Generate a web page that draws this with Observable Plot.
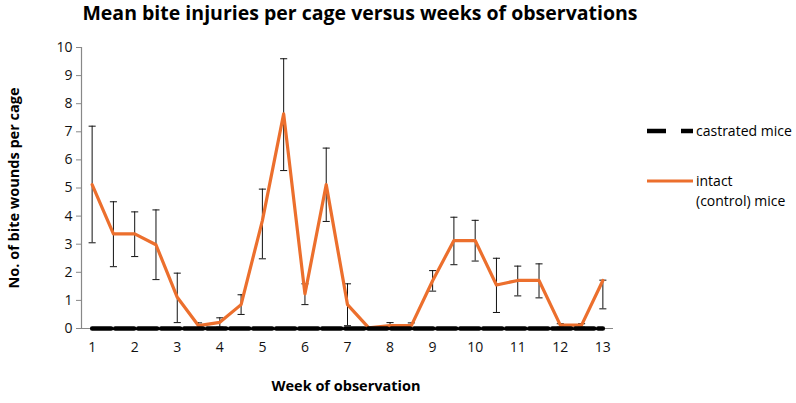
<!DOCTYPE html>
<html>
<head>
<meta charset="utf-8">
<script src="https://cdn.jsdelivr.net/npm/d3@7"></script>
<script src="https://cdn.jsdelivr.net/npm/@observablehq/plot@0.6"></script>
<style>
  html, body { margin: 0; padding: 0; background: #fff; }
  #chart { width: 796px; height: 403px; }
</style>
</head>
<body>
<div id="chart"></div>
<script>
// Weeks of observation (half-week steps)
const weeks = [1, 1.5, 2, 2.5, 3, 3.5, 4, 4.5, 5, 5.5, 6, 6.5, 7, 7.5, 8, 8.5, 9, 9.5, 10, 10.5, 11, 11.5, 12, 12.5, 13];
// Intact (control) mice: mean bite wounds per cage
const intactMean = [5.12, 3.37, 3.37, 2.98, 1.11, 0.1, 0.22, 0.85, 3.84, 7.64, 1.23, 5.12, 0.85, 0.02, 0.1, 0.1, 1.7, 3.13, 3.13, 1.55, 1.71, 1.71, 0.12, 0.12, 1.71];
const intactLow  = [3.05, 2.2, 2.56, 1.74, 0.21, 0.02, 0.05, 0.5, 2.48, 5.62, 0.85, 3.81, 0.1, 0.0, 0.0, 0.0, 1.33, 2.27, 2.4, 0.57, 1.16, 1.09, 0.05, 0.05, 0.7];
const intactHigh = [7.2, 4.51, 4.15, 4.22, 1.97, 0.2, 0.38, 1.2, 4.96, 9.6, 1.59, 6.42, 1.59, 0.05, 0.21, 0.2, 2.06, 3.96, 3.85, 2.5, 2.22, 2.3, 0.17, 0.17, 1.72];
// Castrated mice: no bite wounds
const castratedMean = [0, 0, 0, 0, 0, 0, 0, 0, 0, 0, 0, 0, 0, 0, 0, 0, 0, 0, 0, 0, 0, 0, 0, 0, 0];
const weekTicks = [1, 2, 3, 4, 5, 6, 7, 8, 9, 10, 11, 12, 13];
const yTicks = [0, 1, 2, 3, 4, 5, 6, 7, 8, 9, 10];

const intact = weeks.map((w, i) => ({week: w, mean: intactMean[i], lo: intactLow[i], hi: intactHigh[i]}));
const castrated = weeks.map((w, i) => ({week: w, mean: castratedMean[i]}));

const ORANGE = "#EC6F2D";
const FONT = "'Open Sans', 'Liberation Sans', sans-serif";

const capSymbol = {
  draw(context, size) {
    const r = Math.sqrt(size) / 2;
    context.moveTo(-r, 0);
    context.lineTo(r, 0);
  }
};

const plot = Plot.plot({
  width: 796,
  height: 403,
  marginLeft: 81,
  marginRight: 183,
  marginTop: 47,
  marginBottom: 75,
  style: {fontFamily: FONT, fontSize: "14px", color: "#111", background: "#fff"},
  x: {domain: [0.75, 13.25]},
  y: {domain: [0, 10]},
  marks: [
    Plot.axisY({ticks: yTicks, tickSize: 5, tickPadding: 4, stroke: "#888", label: null, fontSize: 14}),
    Plot.axisX({ticks: weekTicks, tickSize: 0, tickPadding: 14, label: null, fontSize: 14}),
    Plot.ruleX([0.75], {stroke: "#888", strokeWidth: 1.2}),
    Plot.ruleY([0], {stroke: "#888", strokeWidth: 1.2}),
    Plot.ruleX(intact, {x: "week", y1: "lo", y2: "hi", stroke: "#111", strokeWidth: 1}),
    Plot.dot(intact, {x: "week", y: "lo", symbol: capSymbol, r: 4, fill: "none", stroke: "#111", strokeWidth: 1}),
    Plot.dot(intact, {x: "week", y: "hi", symbol: capSymbol, r: 4, fill: "none", stroke: "#111", strokeWidth: 1}),
    Plot.line(intact, {x: "week", y: "mean", stroke: ORANGE, strokeWidth: 3.2}),
    Plot.line(castrated, {x: "week", y: "mean", stroke: "#000", strokeWidth: 4.5, strokeDasharray: "19,4"})
  ]
});

document.getElementById("chart").appendChild(plot);

const svg = d3.select(plot);
// Title
svg.append("text")
  .attr("x", 360).attr("y", 20)
  .attr("text-anchor", "middle")
  .attr("font-family", FONT).attr("font-weight", "bold").attr("font-size", 19.5)
  .attr("fill", "#000")
  .text("Mean bite injuries per cage versus weeks of observations");
// X label
svg.append("text")
  .attr("x", 346).attr("y", 391)
  .attr("text-anchor", "middle")
  .attr("font-family", FONT).attr("font-weight", "bold").attr("font-size", 14.5)
  .attr("fill", "#000")
  .text("Week of observation");
// Y label
svg.append("text")
  .attr("transform", "translate(19,188) rotate(-90)")
  .attr("text-anchor", "middle")
  .attr("font-family", FONT).attr("font-weight", "bold").attr("font-size", 14.5)
  .attr("fill", "#000")
  .text("No. of bite wounds per cage");

// Legend
const lg = svg.append("g").attr("font-family", FONT).attr("font-size", 14).attr("fill", "#000").attr("text-anchor", "start");
lg.append("line").attr("x1", 647).attr("x2", 693).attr("y1", 131).attr("y2", 131)
  .attr("stroke", "#000").attr("stroke-width", 4.5).attr("stroke-dasharray", "19,15");
lg.append("text").attr("x", 696).attr("y", 136).text("castrated mice");
lg.append("line").attr("x1", 647).attr("x2", 693).attr("y1", 181).attr("y2", 181)
  .attr("stroke", ORANGE).attr("stroke-width", 3.2);
lg.append("text").attr("x", 696).attr("y", 186).text("intact");
lg.append("text").attr("x", 696).attr("y", 206).text("(control) mice");
</script>
</body>
</html>
